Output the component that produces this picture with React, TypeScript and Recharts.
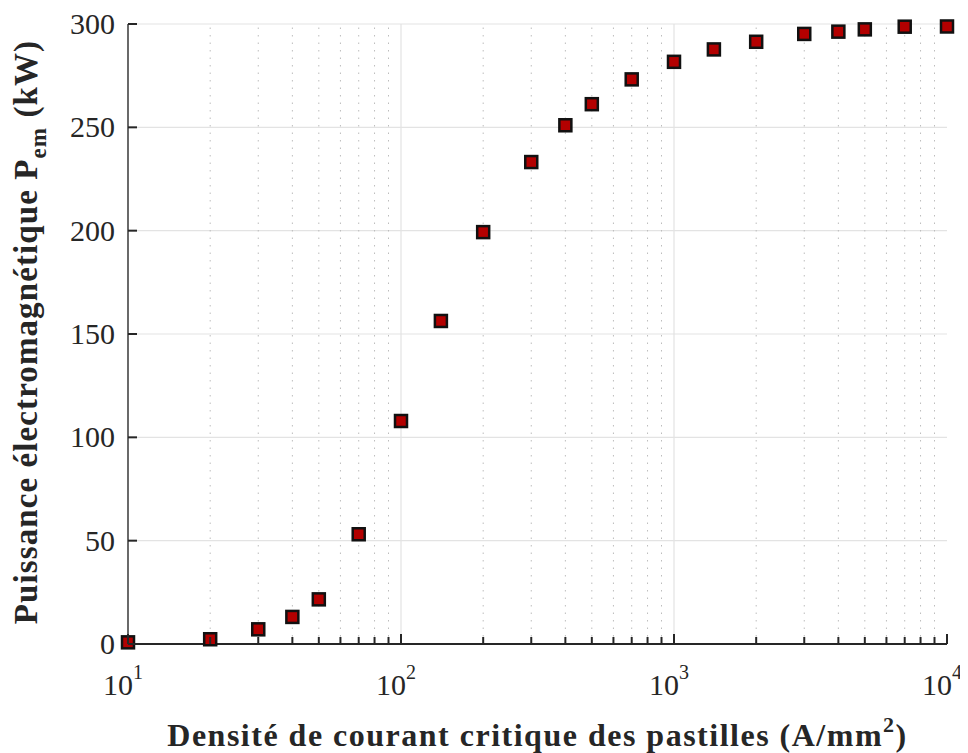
import { ScatterChart, Scatter, XAxis, YAxis, CartesianGrid, ReferenceLine } from 'recharts';

const jcValues = [10, 20, 30, 40, 50, 70, 100, 140, 200, 300, 400, 500, 700, 1000, 1400, 2000, 3000, 4000, 5000, 7000, 10000];
const pemValues = [0.8, 2.3, 7.1, 13.1, 21.6, 53.1, 107.9, 156.3, 199.3, 233.2, 251, 261.2, 273.2, 281.7, 287.7, 291.4, 295.2, 296.3, 297.4, 298.7, 298.8];

const majorXTicks = [10, 100, 1000, 10000];
const minorXTicks = [20, 30, 40, 50, 60, 70, 80, 90, 200, 300, 400, 500, 600, 700, 800, 900, 2000, 3000, 4000, 5000, 6000, 7000, 8000, 9000];
const yTicks = [0, 50, 100, 150, 200, 250, 300];
const exponents: Record<number, string> = { 10: '1', 100: '2', 1000: '3', 10000: '4' };

const data = jcValues.map((jc, i) => ({ jc, pem: pemValues[i] }));
const allXTicks = [...majorXTicks, ...minorXTicks];

const FONT = '"Liberation Serif", "Times New Roman", serif';
const INK = '#262626';

const BottomTick = ({ x, y, payload }: any) => {
    const v = payload.value;
    const major = majorXTicks.includes(v);
    return (
        <g>
            <line x1={x} y1={y} x2={x} y2={y - (major ? 10 : 7)} stroke={INK} strokeWidth={2} />
            {major && (
                <text x={x - 5} y={y + 51} textAnchor="middle" fontFamily={FONT} fontSize={30} fill={INK}>
                    <tspan>10</tspan>
                    <tspan dy={-16} fontSize={20}>{exponents[v]}</tspan>
                </text>
            )}
        </g>
    );
};

const TopTick = ({ x, y, payload }: any) => {
    const major = majorXTicks.includes(payload.value);
    return <line x1={x} y1={y} x2={x} y2={y + (major ? 10 : 7)} stroke={INK} strokeWidth={2} />;
};

const LeftTick = ({ x, y, payload }: any) => (
    <g>
        <line x1={x} y1={y} x2={x + 9} y2={y} stroke={INK} strokeWidth={2} />
        <text x={x - 13} y={y + 10} textAnchor="end" fontFamily={FONT} fontSize={30} fill={INK}>
            {payload.value}
        </text>
    </g>
);

const RightTick = ({ x, y }: any) => <line x1={x} y1={y} x2={x - 9} y2={y} stroke={INK} strokeWidth={2} />;

const Marker = (props: any) => {
    const { cx, cy } = props;
    return <rect x={cx - 6} y={cy - 6} width={12} height={12} fill="#b30000" stroke="#111" strokeWidth={2.5} />;
};

const YLabel = () => {
    const cx = 29;
    const cy = 324;
    return (
        <text x={cx} y={cy} transform={`rotate(-90, ${cx}, ${cy})`} textAnchor="middle" fontFamily={FONT} fontWeight="bold" fontSize={33} letterSpacing={1.1} fill={INK}>
            <tspan>Puissance électromagnétique P</tspan>
            <tspan dy={9} fontSize={23}>em</tspan>
            <tspan dy={-9}> (kW)</tspan>
        </text>
    );
};

const XLabel = ({ viewBox }: any) => {
    const cx = viewBox.x + viewBox.width / 2;
    const cy = viewBox.y + 102;
    return (
        <text x={cx} y={cy} textAnchor="middle" fontFamily={FONT} fontWeight="bold" fontSize={32} letterSpacing={1.5} fill={INK}>
            <tspan>Densité de courant critique des pastilles (A/mm</tspan>
            <tspan dy={-14} fontSize={22}>2</tspan>
            <tspan dy={14}>)</tspan>
        </text>
    );
};

export default function App() {
    return (
        <div style={{ width: 960, height: 745, background: '#fff' }}>
            <style>{'html, body { overflow: hidden; } .recharts-surface { overflow: visible; }'}</style>
            <ScatterChart width={960} height={745} margin={{ top: 16, right: 21, bottom: 49, left: 0 }}>
                <CartesianGrid vertical={false} stroke="#e3e3e3" strokeWidth={1.2} />
                {minorXTicks.map((v) => (
                    <ReferenceLine key={`m${v}`} x={v} stroke="#bdbdbd" strokeWidth={1} strokeDasharray="1.5 6" />
                ))}
                {majorXTicks.slice(1, -1).map((v) => (
                    <ReferenceLine key={`M${v}`} x={v} stroke="#e3e3e3" strokeWidth={1.2} />
                ))}
                <XAxis
                    dataKey="jc"
                    type="number"
                    scale="log"
                    domain={[10, 10000]}
                    ticks={allXTicks}
                    interval={0}
                    height={60}
                    tickSize={0}
                    tickMargin={0}
                    tick={<BottomTick />}
                    axisLine={{ stroke: INK, strokeWidth: 2 }}
                    tickLine={false}
                    label={<XLabel />}
                />
                <XAxis
                    xAxisId="top"
                    dataKey="jc"
                    type="number"
                    scale="log"
                    domain={[10, 10000]}
                    orientation="top"
                    ticks={allXTicks}
                    interval={0}
                    height={0}
                    tickSize={0}
                    tickMargin={0}
                    tick={<TopTick />}
                    axisLine={{ stroke: INK, strokeWidth: 2 }}
                    tickLine={false}
                />
                <YAxis
                    dataKey="pem"
                    type="number"
                    domain={[0, 300]}
                    ticks={yTicks}
                    interval={0}
                    width={120}
                    tickSize={0}
                    tickMargin={0}
                    tick={<LeftTick />}
                    axisLine={{ stroke: '#444', strokeWidth: 1.6 }}
                    tickLine={false}
                    label={<YLabel />}
                />
                <YAxis
                    yAxisId="right"
                    orientation="right"
                    type="number"
                    domain={[0, 300]}
                    ticks={yTicks}
                    interval={0}
                    width={0}
                    tickSize={0}
                    tickMargin={0}
                    tick={<RightTick />}
                    axisLine={{ stroke: INK, strokeWidth: 2 }}
                    tickLine={false}
                />
                <Scatter data={data} shape={<Marker />} isAnimationActive={false} />
            </ScatterChart>
        </div>
    );
}
